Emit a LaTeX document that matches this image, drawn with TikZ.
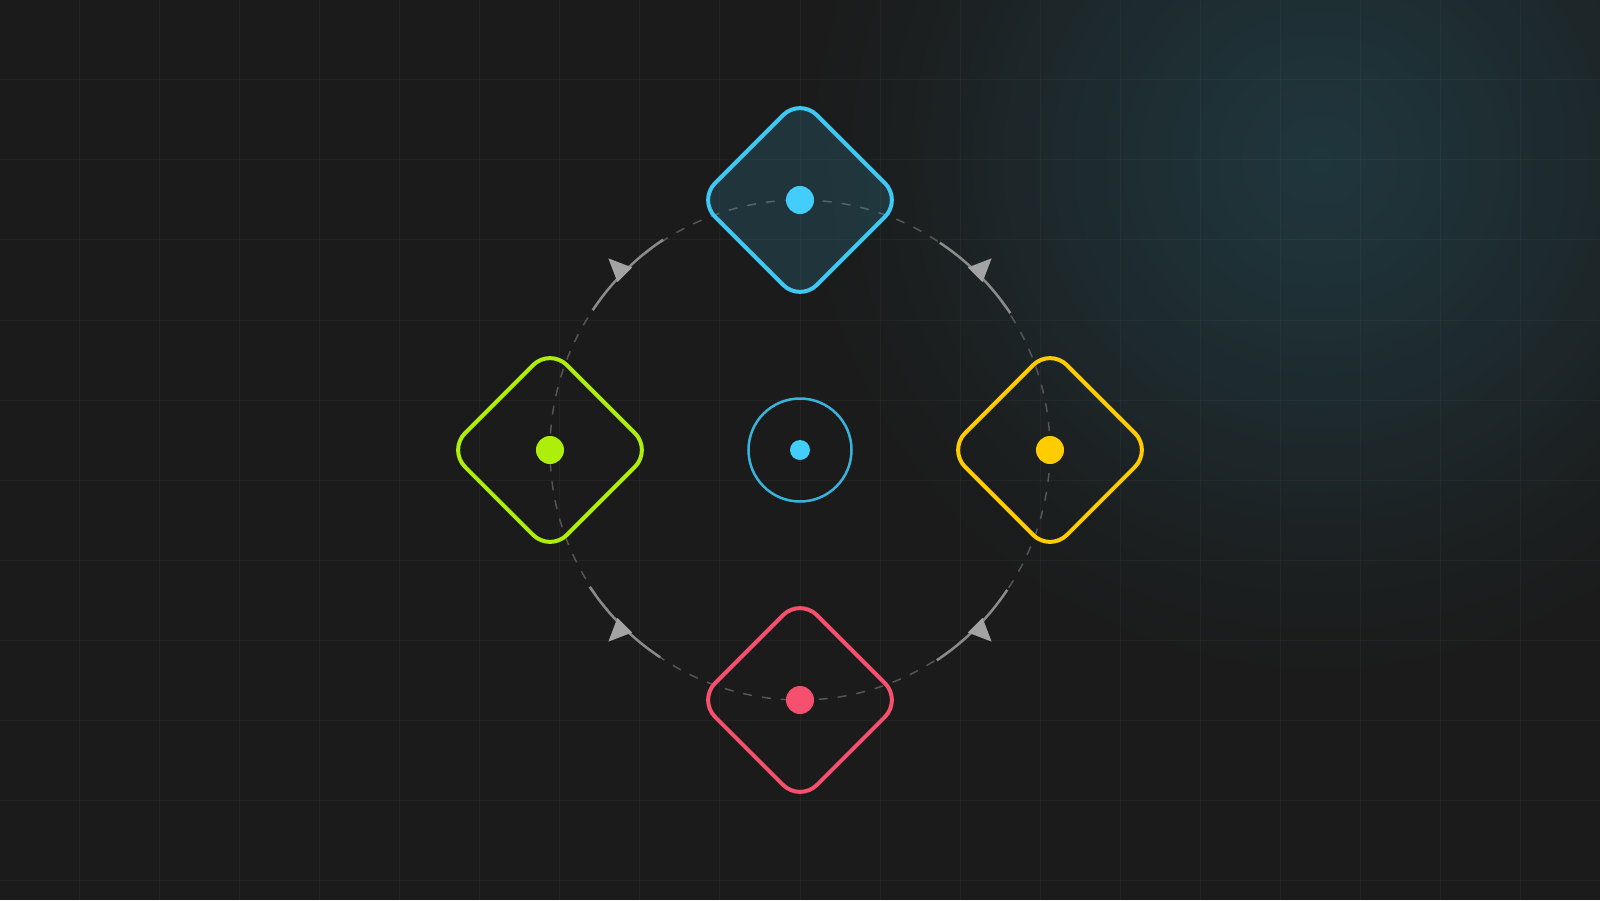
\documentclass[tikz,border=0pt]{standalone}
\usetikzlibrary{calc}
\definecolor{bg}{HTML}{1B1B1B}
\definecolor{glowc}{HTML}{1F363D}
\colorlet{glowa}{glowc!80!bg}
\colorlet{glowb}{glowc!45!bg}
\colorlet{glowd}{glowc!15!bg}
\definecolor{orbitc}{HTML}{555555}
\definecolor{arcc}{HTML}{8A8A8A}
\definecolor{tipc}{HTML}{A3A3A3}
\definecolor{cyanc}{HTML}{3FC9F2}
\definecolor{cyandot}{HTML}{42CDFA}
\definecolor{ringc}{HTML}{38B4DC}
\definecolor{limec}{HTML}{ADEE0A}
\definecolor{goldc}{HTML}{FFCC00}
\definecolor{pinkc}{HTML}{F5506E}
\pgfdeclareradialshading{glowshade}{\pgfpoint{0bp}{0bp}}{color(0bp)=(glowc); color(6bp)=(glowa); color(14bp)=(glowb); color(20bp)=(glowd); color(25bp)=(bg); color(50bp)=(bg)}
\begin{document}
\begin{tikzpicture}[x=1pt,y=1pt,
  gridline/.style={white, opacity=0.035, line width=1pt},
  diamondbox/.style={draw, line width=4pt, rotate=45, minimum width=144pt, minimum height=144pt, rounded corners=24pt, inner sep=0pt, outer sep=0pt},
  dotmark/.style={circle, fill, inner sep=0pt, outer sep=0pt, minimum size=28pt},
  orbitline/.style={circle, draw=orbitc, line width=1.5pt, dash pattern=on 9pt off 10pt, minimum size=500pt, inner sep=0pt, outer sep=0pt},
  flowarc/.style={draw=arcc, line width=2.5pt},
  flowtip/.style={fill=tipc}
]
\useasboundingbox (-800,-450) rectangle (800,450);
\fill[bg] (-800,-450) rectangle (800,450);
\begin{scope}
  \clip (-800,-450) rectangle (800,450);
  \shade[shading=glowshade] (520,290) circle (520);
\end{scope}
\foreach \i in {0,...,20} \draw[gridline] (-800+80*\i,-450) -- (-800+80*\i,450);
\foreach \j in {0,...,11} \draw[gridline] (-800,450-80*\j) -- (800,450-80*\j);

% orbit
\node[orbitline] (orbit) at (0,0) {};

% flow arcs and tips
\foreach \a in {45,135,225,315} {
  \draw[flowarc] (orbit.\a+11.5) arc[start angle=\a+11.5, delta angle=-23, radius=250pt];
  \fill[flowtip] ($(orbit.center)+(\a+2.4:248pt)$) -- ($(orbit.center)+(\a:271pt)$) -- ($(orbit.center)+(\a-2.4:248pt)$) -- cycle;
}

% diamonds
\node[diamondbox, draw=cyanc, fill=cyanc, fill opacity=0.15, draw opacity=1] (top) at (0,250) {};
\node[diamondbox, draw=limec] (left) at (-250,0) {};
\node[diamondbox, draw=goldc] (right) at (250,0) {};
\node[diamondbox, draw=pinkc] (bottom) at (0,-250) {};

\node[dotmark, fill=cyandot] (topdot) at (top.center) {};
\node[dotmark, fill=limec] (leftdot) at (left.center) {};
\node[dotmark, fill=goldc] (rightdot) at (right.center) {};
\node[dotmark, fill=pinkc] (bottomdot) at (bottom.center) {};

% center
\node[circle, draw=ringc, line width=2.5pt, minimum size=103pt, inner sep=0pt] (hub) at (0,0) {};
\node[dotmark, fill=cyandot, minimum size=20pt] (hubdot) at (hub.center) {};
\end{tikzpicture}
\end{document}
